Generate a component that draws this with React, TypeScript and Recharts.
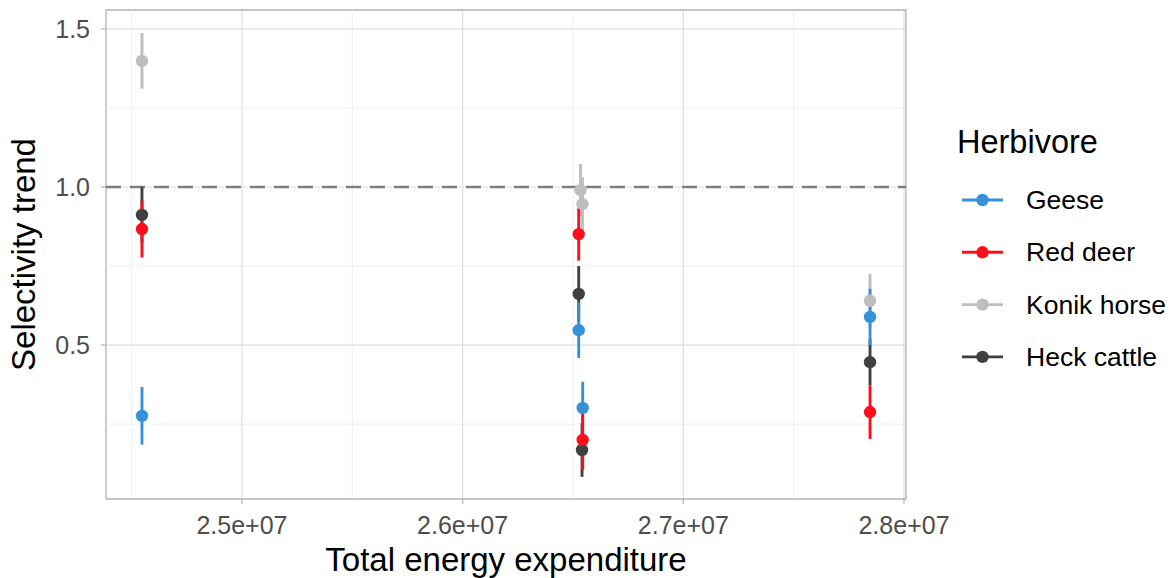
import React from "react";
import {
  ComposedChart,
  Scatter,
  ErrorBar,
  XAxis,
  YAxis,
  CartesianGrid,
  ReferenceLine,
  ReferenceArea,
  Label,
} from "recharts";

// ---- data ----
const herbivores = ["Geese", "Red deer", "Konik horse", "Heck cattle"];
const colors = ["#3791d6", "#ff0d1d", "#bebebe", "#404040"];

const geeseX = [24547000, 26526000, 26544000, 27846000];
const geeseY = [0.276, 0.547, 0.301, 0.589];
const geeseErr = [0.091, 0.088, 0.083, 0.089];

const redDeerX = [24547000, 26526000, 26544000, 27846000];
const redDeerY = [0.867, 0.851, 0.2, 0.288];
const redDeerErr = [0.09, 0.084, 0.095, 0.085];

const konikX = [24547000, 26534000, 26543000, 27846000];
const konikY = [1.399, 0.99, 0.946, 0.64];
const konikErr = [0.088, 0.083, 0.085, 0.085];

const heckX = [24547000, 26526000, 26541000, 27846000];
const heckY = [0.912, 0.662, 0.168, 0.446];
const heckErr = [0.088, 0.088, 0.085, 0.073];

const xTicks = [25000000, 26000000, 27000000, 28000000];
const xMinor = [24500000, 25500000, 26500000, 27500000];
const yTicks = [0.5, 1.0, 1.5];
const yMinor = [0.25, 0.75, 1.25];
const xDomain = [24384000, 28009000];
const yDomain = [0.013, 1.56];
const refY = 1.0;

const build = (xs: number[], ys: number[], es: number[]) =>
  xs.map((x, i) => ({ x, y: ys[i], err: es[i] }));

const seriesData = [
  build(geeseX, geeseY, geeseErr),
  build(redDeerX, redDeerY, redDeerErr),
  build(konikX, konikY, konikErr),
  build(heckX, heckY, heckErr),
];

// draw order (back to front): Konik, Heck, Geese, Red deer
const drawOrder = [2, 3, 0, 1];

const FONT = "'Liberation Sans', Arial, Helvetica, sans-serif";

const fmtX = (v: number) => (v / 1e7).toFixed(1) + "e+07";
const fmtY = (v: number) => v.toFixed(1);

const R = 6.2;
const SW = 2.9;

const dot = (color: string) => (props: any) =>
  <circle cx={props.cx} cy={props.cy} r={R} fill={color} />;

export default function App() {
  return (
    <div style={{ position: "absolute", left: 0, top: 0, width: 1174, height: 578, background: "#fff" }}>
      <ComposedChart
        width={1174}
        height={578}
        margin={{ top: 10, right: 268, left: 6, bottom: 0 }}
        style={{ fontFamily: FONT }}
      >
        <CartesianGrid stroke="#dedede" strokeWidth={1.2} horizontalValues={yTicks} verticalValues={xTicks} />
        {yMinor.map((v) => (
          <ReferenceLine key={"ym" + v} y={v} stroke="#ebebeb" strokeWidth={0.8} />
        ))}
        {xMinor.map((v) => (
          <ReferenceLine key={"xm" + v} x={v} stroke="#ebebeb" strokeWidth={0.8} />
        ))}
        <XAxis
          type="number"
          dataKey="x"
          domain={xDomain}
          ticks={xTicks}
          tickFormatter={fmtX}
          allowDataOverflow
          height={79}
          axisLine={false}
          tickLine={{ stroke: "#b3b3b3", strokeWidth: 1.2 }}
          tickSize={5}
          tickMargin={12}
          tick={{ fontSize: 25, fill: "#4d4d4d", fontFamily: FONT }}
        >
          <Label
            value="Total energy expenditure"
            position="insideBottom"
            offset={7}
            style={{ fontSize: 33, fill: "#000", fontFamily: FONT }}
          />
        </XAxis>
        <YAxis
          type="number"
          dataKey="y"
          domain={yDomain}
          ticks={yTicks}
          tickFormatter={fmtY}
          allowDataOverflow
          width={100}
          axisLine={false}
          tickLine={{ stroke: "#b3b3b3", strokeWidth: 1.2 }}
          tickSize={5}
          tickMargin={11}
          tick={{ fontSize: 25, fill: "#4d4d4d", fontFamily: FONT }}
        >
          <Label
            value="Selectivity trend"
            angle={-90}
            position="insideLeft"
            offset={17}
            style={{ fontSize: 33, fill: "#000", fontFamily: FONT, textAnchor: "middle" }}
          />
        </YAxis>
        <ReferenceLine y={refY} stroke="#7f7f7f" strokeWidth={2.4} strokeDasharray="15 9" />
        {drawOrder.map((i) => (
          <Scatter
            key={herbivores[i]}
            name={herbivores[i]}
            data={seriesData[i]}
            fill={colors[i]}
            shape={dot(colors[i])}
            isAnimationActive={false}
          >
            <ErrorBar dataKey="err" direction="y" width={0} stroke={colors[i]} strokeWidth={SW} isAnimationActive={false} />
          </Scatter>
        ))}
        <ReferenceArea
          x1={xDomain[0]}
          x2={xDomain[1]}
          y1={yDomain[0]}
          y2={yDomain[1]}
          fill="none"
          fillOpacity={0}
          stroke="#b3b3b3"
          strokeWidth={1.3}
        />
      </ComposedChart>
      <svg
        width={230}
        height={260}
        style={{ position: "absolute", left: 944, top: 120 }}
      >
        <text x={13} y={33} fontSize={32.5} fontFamily={FONT} fill="#000">
          Herbivore
        </text>
        {herbivores.map((h, i) => {
          const cy = 80 + i * 52.3;
          return (
            <g key={h}>
              <line x1={18} x2={59} y1={cy} y2={cy} stroke={colors[i]} strokeWidth={SW} />
              <circle cx={38.5} cy={cy} r={R} fill={colors[i]} />
              <text x={82} y={cy + 9} fontSize={26.5} fontFamily={FONT} fill="#000">
                {h}
              </text>
            </g>
          );
        })}
      </svg>
    </div>
  );
}
